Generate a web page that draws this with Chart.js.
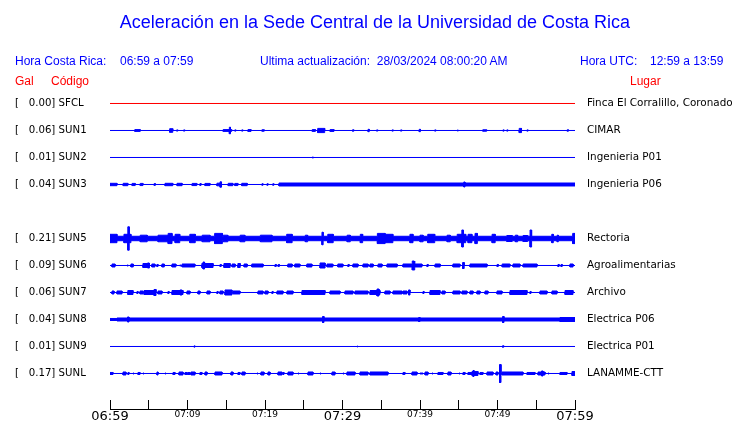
<!DOCTYPE html>
<html>
<head>
<meta charset="utf-8">
<script src="https://cdn.jsdelivr.net/npm/chart.js@4.4.1/dist/chart.umd.min.js"></script>
<style>
    body { margin: 0; background: #fff; }
    #wrap { position: relative; width: 740px; height: 423px; overflow: hidden; }
    #chart { position: absolute; left: 0; top: 0; }
    .txt { position: absolute; font-family: "Liberation Sans", Arial, sans-serif; white-space: pre; }
    .blue { color: #0000ff; font-size: 12px; line-height: 14px; }
    .red { color: #ff0000; font-size: 12px; line-height: 14px; }
    #title { left: 0; width: 750px; text-align: center; top: 12px; font-size: 18px; line-height: 20px; color: #0000ff; }
</style>
</head>
<body>
<div id="wrap">
    <canvas id="chart" width="740" height="423"></canvas>
    <div class="txt" id="title">Aceleración en la Sede Central de la Universidad de Costa Rica</div>
    <div class="txt blue" style="left:15px; top:54px">Hora Costa Rica:</div>
    <div class="txt blue" style="left:120px; top:54px">06:59 a 07:59</div>
    <div class="txt blue" style="left:260px; top:54px">Ultima actualización:  28/03/2024 08:00:20 AM</div>
    <div class="txt blue" style="left:580px; top:54px">Hora UTC:</div>
    <div class="txt blue" style="left:650px; top:54px">12:59 a 13:59</div>
    <div class="txt red" style="left:15px; top:74px">Gal</div>
    <div class="txt red" style="left:51px; top:74px">Código</div>
    <div class="txt red" style="left:630px; top:74px">Lugar</div>
</div>
<script>
// Station table (SUN4 missing -> empty row 4)
const codes = ['SFCL', 'SUN1', 'SUN2', 'SUN3', 'SUN5', 'SUN6', 'SUN7', 'SUN8', 'SUN9', 'SUNL'];
const places = ['Finca El Corralillo, Coronado', 'CIMAR', 'Ingenieria P01', 'Ingenieria P06', 'Rectoria',
    'Agroalimentarias', 'Archivo', 'Electrica P06', 'Electrica P01', 'LANAMME-CTT'];
const galMax = ['0.00', '0.06', '0.01', '0.04', '0.21', '0.09', '0.06', '0.04', '0.01', '0.17'];
const rows = [0, 1, 2, 3, 5, 6, 7, 8, 9, 10];
const tickLabels = ['06:59', '07:09', '07:19', '07:29', '07:39', '07:49', '07:59'];

// Envelope of each trace: background level (Gal) and bursts [start min, end min, half amplitude Gal]
const floors = [0, 0, 0, 0, 0.037, 0, 0, 0.025, 0, 0];

const sfcl = [];
const sun1 = [[3.2,3.9,0.015],[7.7,8.1,0.03],[8.6,8.75,0.01],[9.5,9.65,0.01],[14.6,15.4,0.015],[15.4,15.55,0.055],
    [15.55,15.7,0.015],[16.1,16.25,0.01],[17.0,17.15,0.01],[17.8,18.2,0.015],[19.6,19.9,0.012],[26.1,26.5,0.015],
    [26.8,27.7,0.035],[28.4,28.9,0.015],[31.3,31.45,0.012],[33.3,33.45,0.02],[34.4,34.55,0.01],[36.4,36.55,0.01],
    [37.5,37.65,0.01],[39.9,40.05,0.02],[41.9,42.05,0.01],[44.8,44.95,0.008],[48.1,48.6,0.012],[50.7,50.85,0.01],
    [51.2,51.35,0.01],[52.8,53.1,0.035],[53.8,53.95,0.01],[59.0,59.15,0.012]];
const sun2 = [[26.1,26.25,0.008]];
const sun3 = [[0,0.9,0.02],[1.7,2.3,0.02],[2.85,3.25,0.018],[3.9,4.25,0.018],[5.7,5.85,0.015],[7.1,8.1,0.02],
    [8.65,9.3,0.02],[10.6,11.2,0.018],[11.6,11.75,0.015],[12.25,12.9,0.018],[13.8,14.2,0.022],[14.2,14.35,0.045],
    [14.35,14.45,0.022],[15.25,15.85,0.02],[16.1,16.5,0.018],[17.0,17.7,0.02],[19.6,19.75,0.012],[20.25,20.4,0.012],
    [21.0,21.15,0.012],[21.8,45.65,0.025],[45.65,45.8,0.042],[45.8,60,0.025]];
const sun5 = [[0,0.9,0.07],[1.8,2.3,0.07],[2.3,2.48,0.195],[2.48,2.7,0.07],[3.9,4.8,0.055],[6.2,7.5,0.055],
    [7.5,8.0,0.085],[8.4,9.0,0.07],[10.3,11.0,0.07],[11.9,12.9,0.055],[13.5,14.5,0.085],[14.6,15.2,0.055],
    [16.8,17.4,0.055],[19.4,20.9,0.055],[22.8,23.5,0.07],[25.2,25.5,0.055],[27.35,27.5,0.105],[28.1,28.8,0.07],
    [30.6,31.0,0.055],[32.3,32.6,0.07],[34.5,35.5,0.085],[35.5,36.5,0.07],[38.7,39.1,0.07],[40.0,40.4,0.055],
    [41.0,41.9,0.07],[43.5,43.9,0.055],[44.8,45.4,0.07],[45.4,45.6,0.142],[45.6,45.9,0.07],[46.2,46.7,0.07],
    [47.1,47.4,0.085],[49.3,49.7,0.07],[51.2,51.9,0.05],[52.3,52.6,0.055],[53.3,53.9,0.05],[54.2,54.4,0.142],
    [57.0,57.2,0.07],[57.7,57.85,0.055],[59.7,60,0.085]];
const sun6 = [[0.26,0.65,0.025],[2.2,2.35,0.008],[2.7,3.0,0.025],[4.25,4.85,0.033],[4.85,5.05,0.042],[5.05,5.15,0.033],
    [5.4,5.8,0.025],[6.05,6.2,0.017],[6.7,7.0,0.025],[8.0,8.5,0.025],[9.0,9.15,0.008],[9.3,10.95,0.025],
    [11.85,12.0,0.033],[12.0,12.2,0.058],[12.2,13.3,0.033],[14.2,14.35,0.017],[14.7,15.5,0.033],[15.75,16.15,0.025],
    [16.5,16.8,0.033],[17.3,17.7,0.025],[18.3,19.75,0.025],[21.3,21.45,0.017],[21.7,21.85,0.017],[22.95,23.5,0.025],
    [23.85,24.5,0.025],[25.4,26.05,0.025],[27.1,27.75,0.042],[28.0,28.75,0.025],[29.4,30.05,0.025],[30.7,30.85,0.017],
    [31.35,32.0,0.025],[32.65,33.3,0.025],[33.55,33.95,0.025],[34.6,35.1,0.025],[35.75,37.05,0.025],[37.8,38.95,0.025],
    [39.0,39.25,0.075],[39.35,40.25,0.025],[40.9,41.05,0.017],[41.95,42.6,0.025],[44.25,45.15,0.025],[45.5,45.7,0.05],
    [46.45,48.65,0.025],[49.95,50.1,0.017],[50.6,51.6,0.025],[52.0,52.9,0.025],[53.3,55.1,0.025],[57.8,57.95,0.017],
    [58.2,58.35,0.017],[59.35,59.75,0.025]];
const sun7 = [[0.26,0.52,0.025],[0.9,1.55,0.025],[2.3,2.97,0.033],[3.48,3.62,0.017],[3.87,4.26,0.025],[4.39,5.68,0.033],
    [5.68,5.94,0.05],[6.19,6.71,0.025],[7.48,7.62,0.017],[8.0,9.03,0.033],[9.03,9.29,0.042],[9.29,9.42,0.033],
    [9.94,10.32,0.025],[11.35,11.61,0.025],[12.52,12.9,0.025],[13.8,13.94,0.017],[14.19,14.58,0.025],[14.84,15.74,0.042],
    [15.87,16.77,0.025],[19.1,19.74,0.025],[20.0,20.39,0.025],[20.9,21.04,0.017],[21.55,22.32,0.025],[22.84,23.61,0.025],
    [24.77,27.74,0.033],[28.39,29.68,0.025],[30.32,31.35,0.025],[31.61,33.29,0.025],[33.55,34.45,0.033],[34.45,34.71,0.058],
    [34.71,34.84,0.033],[35.48,36.13,0.025],[36.52,37.68,0.025],[37.81,38.32,0.025],[38.52,38.71,0.042],[40.39,40.52,0.017],
    [41.29,42.58,0.033],[42.84,43.23,0.025],[44.26,45.16,0.025],[45.42,46.06,0.025],[46.45,46.84,0.025],[47.35,47.74,0.025],
    [48.39,48.77,0.025],[49.94,50.58,0.025],[51.61,53.81,0.033],[54.19,54.32,0.017],[55.48,56.39,0.025],[57.03,57.68,0.025],
    [58.71,59.74,0.033]];
const sun8 = [[0,0.9,0.017],[2.26,2.45,0.042],[27.42,27.61,0.05],[39.81,40.0,0.033],[50.65,50.84,0.05],[58.06,60,0.033]];
const sun9 = [[10.84,10.97,0.01],[31.87,32.0,0.006],[50.65,50.8,0.012]];
const sunl = [[0,0.39,0.017],[1.68,2.06,0.025],[2.32,2.45,0.017],[2.97,3.1,0.008],[3.61,3.87,0.017],[4.26,4.39,0.008],
    [6.06,6.2,0.025],[7.1,7.23,0.008],[8.13,8.39,0.017],[8.9,9.42,0.025],[9.68,9.94,0.017],[10.06,10.32,0.017],
    [10.45,10.97,0.025],[11.61,11.87,0.017],[12.26,12.52,0.025],[13.55,14.45,0.025],[15.61,15.87,0.025],[16.52,16.77,0.017],
    [17.03,17.42,0.025],[18.97,19.1,0.008],[19.48,19.87,0.025],[20.39,20.65,0.025],[21.68,22.19,0.025],[22.32,22.45,0.017],
    [22.97,23.61,0.025],[24.26,24.39,0.008],[25.55,26.19,0.025],[27.1,27.23,0.008],[28.65,29.03,0.025],[30.06,30.19,0.008],
    [30.58,31.61,0.025],[32.26,33.29,0.025],[33.55,35.87,0.025],[37.81,38.06,0.017],[38.97,39.61,0.025],[40.0,40.39,0.008],
    [40.65,41.03,0.025],[41.55,41.68,0.008],[42.32,42.97,0.017],[43.61,44.0,0.025],[45.03,45.16,0.008],[45.55,45.81,0.017],
    [46.19,46.71,0.017],[46.71,46.84,0.033],[46.84,46.97,0.05],[46.97,47.48,0.033],[47.74,48.13,0.017],[48.65,49.42,0.025],
    [49.81,50.06,0.025],[50.26,50.45,0.15],[50.58,53.29,0.025],[53.81,54.84,0.017],[55.23,55.68,0.025],[55.68,55.87,0.042],
    [55.87,56.13,0.025],[56.52,56.65,0.008],[58.06,58.97,0.017],[59.61,60,0.033]];

const bursts = [sfcl, sun1, sun2, sun3, sun5, sun6, sun7, sun8, sun9, sunl];
const traceColors = ['#ff0000', '#0000ff', '#0000ff', '#0000ff', '#0000ff', '#0000ff', '#0000ff', '#0000ff', '#0000ff', '#0000ff'];

const GAIN = 2.22;   // rows per Gal
const SPAN = 60;     // minutes shown

// one side of the trace envelope (sign -1 = upper, +1 = lower, y axis reversed)
function envelope(row, floor, segs, sign) {
    const a0 = floor * GAIN * sign;
    const pts = [{ x: 0, y: row + a0 }];
    segs.forEach(([t1, t2, g]) => {
        const a = g * GAIN * sign;
        pts.push({ x: t1, y: row + a0 }, { x: t1, y: row + a }, { x: t2, y: row + a }, { x: t2, y: row + a0 });
    });
    pts.push({ x: SPAN, y: row + a0 });
    return pts;
}

const datasets = [];
codes.forEach((code, i) => {
    const common = {
        borderColor: traceColors[i],
        backgroundColor: traceColors[i],
        borderWidth: 1,
        pointRadius: 0,
        tension: 0
    };
    datasets.push({ ...common, label: code, data: envelope(rows[i], floors[i], bursts[i], -1), fill: false });
    datasets.push({ ...common, label: code + '-', data: envelope(rows[i], floors[i], bursts[i], 1), fill: '-1' });
});

const rowTicks = (scale) => { scale.ticks = rows.map(v => ({ value: v })); };

new Chart(document.getElementById('chart'), {
    type: 'line',
    data: { datasets },
    options: {
        responsive: false,
        animation: false,
        layout: { padding: { left: 15, right: 0, top: 90, bottom: 0 } },
        plugins: { legend: { display: false }, tooltip: { enabled: false } },
        scales: {
            x: {
                type: 'linear',
                min: 0,
                max: SPAN,
                position: 'bottom',
                grid: { drawOnChartArea: false, drawTicks: true, tickLength: -9, color: '#000' },
                border: { display: true, color: '#000', width: 1 },
                ticks: {
                    stepSize: 5,
                    maxTicksLimit: 20,
                    autoSkip: false,
                    maxRotation: 0,
                    padding: 9,
                    color: '#000',
                    font: (c) => ({ family: 'DejaVu Sans', size: c.tick && c.tick.value % 30 === 0 ? 13 : 9 }),
                    callback: (v) => (v % 10 === 0 ? tickLabels[v / 10] : '')
                },
                afterFit: (s) => { s.height = 14; }
            },
            y: {
                type: 'linear',
                position: 'left',
                reverse: true,
                min: -0.5,
                max: 11.315,
                grid: { display: false, drawTicks: false },
                border: { display: false },
                afterBuildTicks: rowTicks,
                ticks: {
                    crossAlign: 'far',
                    color: '#000',
                    font: { family: 'DejaVu Sans', size: 10.2 },
                    callback: (v, i) => `[   ${galMax[i]}] ${codes[i]}`
                },
                afterFit: (s) => { s.width = 95; }
            },
            y2: {
                type: 'linear',
                position: 'right',
                reverse: true,
                min: -0.5,
                max: 11.315,
                // hidden tick marks only push the labels away from the traces
                grid: { display: false, drawTicks: true, tickLength: 9 },
                border: { display: false },
                afterBuildTicks: rowTicks,
                ticks: {
                    padding: 3,
                    color: '#000',
                    font: { family: 'DejaVu Sans', size: 10.4 },
                    callback: (v, i) => places[i]
                },
                afterFit: (s) => { s.width = 165; }
            }
        }
    }
});
</script>
</body>
</html>
